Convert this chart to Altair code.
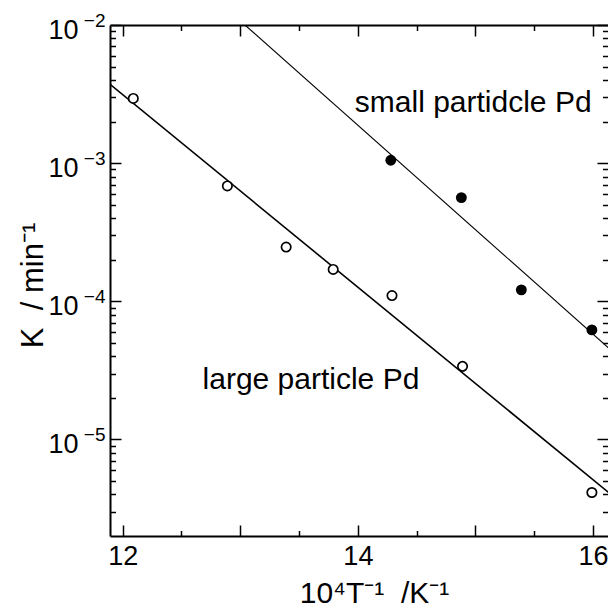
import altair as alt
import pandas as pd

# ---- data ----
open_x = [12.09, 12.89, 13.39, 13.79, 14.29, 14.89, 15.99]
open_k = [2.94e-3, 6.84e-4, 2.47e-4, 1.70e-4, 1.10e-4, 3.38e-5, 4.13e-6]
filled_x = [14.28, 14.88, 15.39, 15.99]
filled_k = [1.05e-3, 5.63e-4, 1.21e-4, 6.21e-5]
large_fit_x = [11.893, 16.157]
large_fit_k = [3.715e-3, 3.97e-6]
small_fit_x = [13.04, 16.157]
small_fit_k = [1.0e-2, 4.40e-5]
ann_text = ["small partidcle Pd", "large particle Pd"]
ann_x = [13.974, 12.679]
ann_k = [2.35e-3, 2.32e-5]

x_label_vals = [12, 14, 16]
x_major = [12, 13, 14, 15, 16]
x_minor = [12.5, 13.5, 14.5, 15.5]
y_major = [1e-2, 1e-3, 1e-4, 1e-5]
y_minor = [3e-6, 4e-6, 5e-6, 6e-6, 7e-6, 8e-6, 9e-6,
           2e-5, 3e-5, 4e-5, 5e-5, 6e-5, 7e-5, 8e-5, 9e-5,
           2e-4, 3e-4, 4e-4, 5e-4, 6e-4, 7e-4, 8e-4, 9e-4,
           2e-3, 3e-3, 4e-3, 5e-3, 6e-3, 7e-3, 8e-3, 9e-3]

FONT = "Liberation Sans"
W, H = 498, 511
MAJ, MIN = 11, 5.5
NB = "\u00a0"

df_open = pd.DataFrame({"x": open_x, "k": open_k})
df_filled = pd.DataFrame({"x": filled_x, "k": filled_k})
df_large = pd.DataFrame({"x": large_fit_x, "k": large_fit_k})
df_small = pd.DataFrame({"x": small_fit_x, "k": small_fit_k})
df_ann_s = pd.DataFrame({"x": ann_x[:1], "k": ann_k[:1], "t": ann_text[:1]})
df_ann_l = pd.DataFrame({"x": ann_x[1:], "k": ann_k[1:], "t": ann_text[1:]})

xs = alt.Scale(type="linear", domain=[11.892, 16.127], nice=False, zero=False)
ys = alt.Scale(type="log", domain=[2e-6, 1e-2], nice=False)


def tick_axis(orient, values, size, offset, domain=False):
    return alt.Axis(orient=orient, values=values, offset=offset, labels=False,
                    ticks=True, tickSize=size, tickWidth=1.5, tickColor="black",
                    domain=domain, domainWidth=2, domainColor="black",
                    title=None, grid=False)


x_main = alt.Axis(orient="bottom", values=x_label_vals, ticks=False, tickSize=0,
                  labelPadding=7, labelFontSize=27, labelFont=FONT,
                  labelColor="black", labelFlush=False, domain=True,
                  domainWidth=2, domainColor="black",
                  title="10⁴T⁻¹" + NB + NB + "/K⁻¹", titleFontSize=30, titleFont=FONT,
                  titleFontWeight="normal", titleColor="black",
                  titleX=264, titleY=66, titleAlign="center",
                  titleBaseline="alphabetic", grid=False)
y_main = alt.Axis(orient="left", values=y_major, labelExpr="'10'", ticks=False,
                  tickSize=0, labelPadding=32, labelOffset=5.5,
                  labelBaseline="middle", labelFontSize=27, labelFont=FONT,
                  labelColor="black", domain=True, domainWidth=2,
                  domainColor="black", title="K" + NB + NB + "/" + NB + "min⁻¹",
                  titleFontSize=31,
                  titleFont=FONT, titleFontWeight="normal", titleColor="black",
                  titleX=-68, titleY=260, titleAngle=270, titleAlign="center",
                  titleBaseline="alphabetic", grid=False)
y_exp = alt.Axis(orient="left", values=y_major,
                 labelExpr="'\u2212' + round(-log(datum.value)/LN10)",
                 ticks=False, tickSize=0, labelPadding=5, labelOffset=-5,
                 labelBaseline="middle", labelFontSize=19, labelFont=FONT,
                 labelColor="black", domain=False, title=None, grid=False)

large_line = alt.Chart(df_large).mark_line(color="black", strokeWidth=1.6, clip=True).encode(
    x=alt.X("x:Q", scale=xs, axis=tick_axis("top", x_minor, MIN, -H)),
    y=alt.Y("k:Q", scale=ys, axis=tick_axis("right", y_major, MAJ, -W)),
)
small_line = alt.Chart(df_small).mark_line(color="black", strokeWidth=1.1, clip=True).encode(
    x=alt.X("x:Q", scale=xs, axis=tick_axis("bottom", x_major, MAJ, -H, domain=True)),
    y=alt.Y("k:Q", scale=ys, axis=tick_axis("right", y_minor, MIN, -W)),
)
open_pts = alt.Chart(df_open).mark_point(shape="circle", filled=True, fill="white",
                                         stroke="black", strokeWidth=1.7, size=88,
                                         opacity=1).encode(
    x=alt.X("x:Q", scale=xs, axis=x_main),
    y=alt.Y("k:Q", scale=ys, axis=y_main),
)
filled_pts = alt.Chart(df_filled).mark_point(shape="circle", filled=True, fill="black",
                                             strokeWidth=0, size=118, opacity=1).encode(
    x=alt.X("x:Q", scale=xs, axis=tick_axis("top", x_major, MAJ, -H)),
    y=alt.Y("k:Q", scale=ys, axis=y_exp),
)
text_s = alt.Chart(df_ann_s).mark_text(align="left", baseline="alphabetic", fontSize=30,
                                        font=FONT, color="black").encode(
    x=alt.X("x:Q", scale=xs, axis=tick_axis("bottom", x_minor, MIN, -H)),
    y=alt.Y("k:Q", scale=ys, axis=tick_axis("left", y_major, MAJ, -W)),
    text="t:N",
)
text_l = alt.Chart(df_ann_l).mark_text(align="left", baseline="alphabetic", fontSize=30,
                                        font=FONT, color="black").encode(
    x=alt.X("x:Q", scale=xs, axis=None),
    y=alt.Y("k:Q", scale=ys, axis=tick_axis("left", y_minor, MIN, -W)),
    text="t:N",
)

chart = alt.layer(large_line, small_line, open_pts, filled_pts, text_s, text_l).resolve_axis(
    x="independent", y="independent"
).properties(
    width=W, height=H,
    autosize=alt.AutoSizeParams(type="none"),
    padding={"left": 102, "top": 17, "right": 0, "bottom": 72},
    background="white",
).configure_view(stroke=None).configure_axis(grid=False)

chart.save("out.html", embed_options={"renderer": "svg", "actions": False})
